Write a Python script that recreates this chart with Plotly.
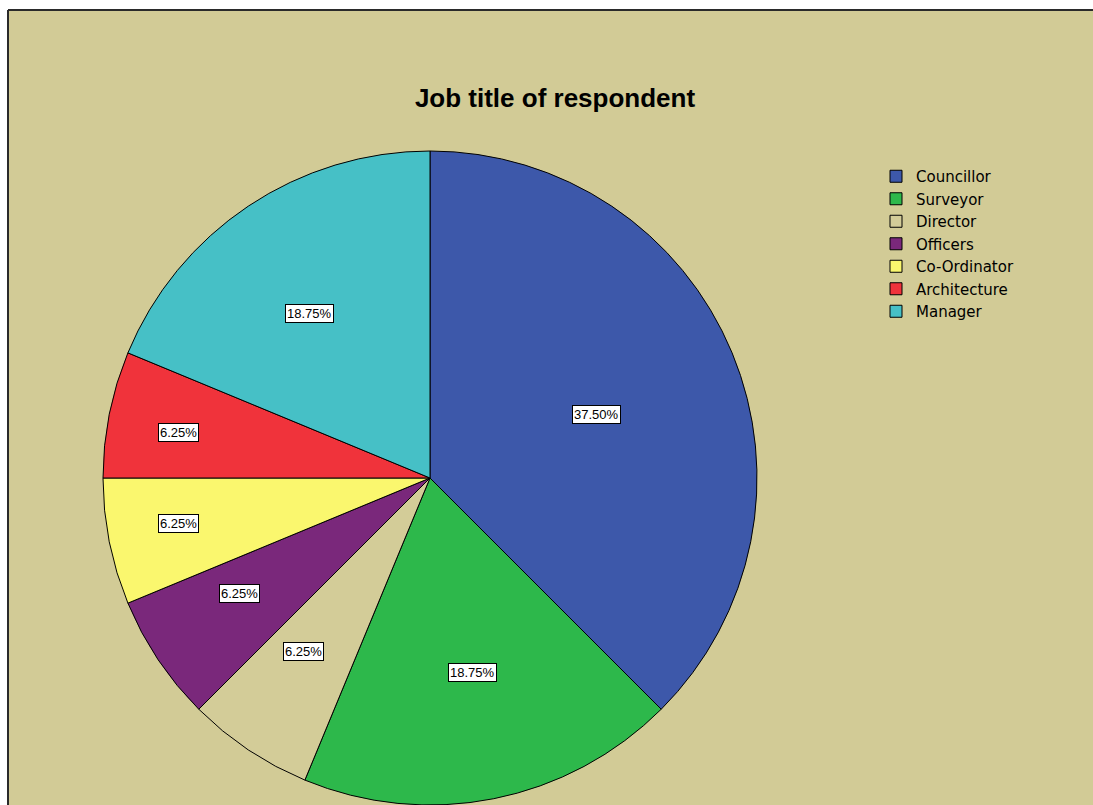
import math
import plotly.graph_objects as go

# Respondent job titles and their share of the sample (%)
job_titles = ["Councillor", "Surveyor", "Director", "Officers",
              "Co-Ordinator", "Architecture", "Manager"]
shares = [37.50, 18.75, 6.25, 6.25, 6.25, 6.25, 18.75]
slice_colors = ["#3D58AA", "#2DB84B", "#D3CC98", "#7A287B",
                "#FAF76E", "#F0333B", "#46C0C6"]

W, H = 1093, 805
BG = "#D2CB96"

# Pie geometry in pixels (centre and radius)
cx, cy, r = 430, 478, 327

fig = go.Figure()
fig.add_trace(go.Pie(
    labels=job_titles,
    values=shares,
    sort=False,
    direction="clockwise",
    rotation=0,
    textinfo="none",
    hoverinfo="label+percent",
    marker=dict(colors=slice_colors, line=dict(color="#000000", width=1)),
    domain=dict(x=[(cx - r) / W, (cx + r) / W], y=[0, 2 * r / H]),
))

# Percentage labels in white boxes, placed near each sector's centroid
annotations = []
total = sum(shares)
start = 0.0
for name, val in zip(job_titles, shares):
    sweep = math.radians(360.0 * val / total)
    mid = math.radians(start) + sweep / 2
    start += 360.0 * val / total
    frac = 4 * math.sin(sweep / 2) / (3 * sweep)
    if val < 10 and abs(math.sin(mid)) > 0.95:
        frac *= 1.12
    px = cx + math.sin(mid) * frac * 345
    py = cy - math.cos(mid) * frac * 315
    annotations.append(dict(
        x=px / W, y=1 - py / H, xref="paper", yref="paper",
        xanchor="center", yanchor="middle",
        text=f"{val:.2f}%", showarrow=False,
        font=dict(family="Arial, Liberation Sans", size=13, color="#000000"),
        bgcolor="#FFFFFF", bordercolor="#000000", borderwidth=1, borderpad=1,
    ))

fig.update_layout(
    width=W, height=H,
    margin=dict(l=0, r=0, t=0, b=0),
    paper_bgcolor="#FFFFFF",
    title=dict(
        text="<b>Job title of respondent</b>",
        x=555 / W, y=1 - 98 / H, xanchor="center", yanchor="middle",
        font=dict(family="Arial, Liberation Sans", size=26, color="#000000"),
    ),
    legend=dict(
        x=876 / W, y=1 - 160 / H, xanchor="left", yanchor="top",
        font=dict(family="DejaVu Sans", size=15, color="#000000"),
        bgcolor="rgba(0,0,0,0)", tracegroupgap=0,
    ),
    annotations=annotations,
    shapes=[
        dict(type="rect", xref="paper", yref="paper", layer="below",
             x0=8 / W, x1=1, y0=0, y1=1 - 10 / H,
             fillcolor=BG, line=dict(width=0)),
        dict(type="line", xref="paper", yref="paper",
             x0=8 / W, x1=1, y0=1 - 10 / H, y1=1 - 10 / H,
             line=dict(color="#2A2A2A", width=2)),
        dict(type="line", xref="paper", yref="paper",
             x0=8 / W, x1=8 / W, y0=0, y1=1 - 10 / H,
             line=dict(color="#2A2A2A", width=2)),
    ],
)

fig.write_html("out.html")
